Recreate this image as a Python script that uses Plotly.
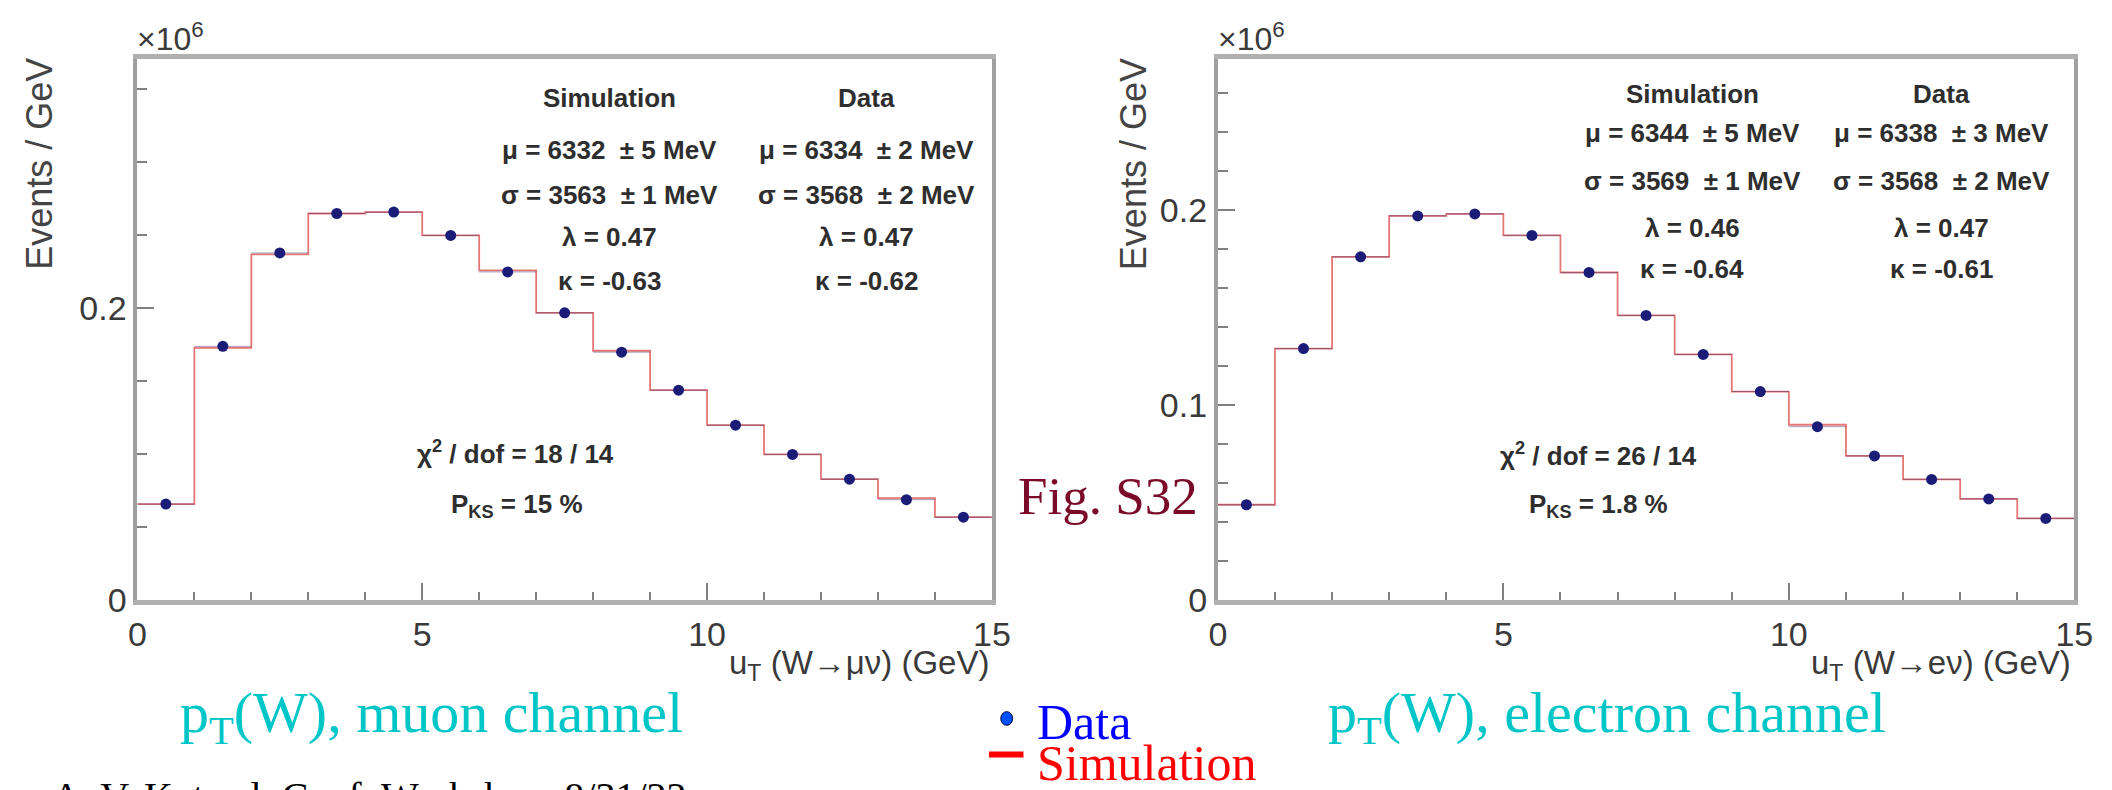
import plotly.graph_objects as go

# ---------------- data (x 10^6 events / GeV) ----------------
bin_edges = list(range(16))
bin_centers = [i + 0.5 for i in range(15)]

muon_data = [0.066, 0.174, 0.238, 0.265, 0.266, 0.250, 0.225, 0.197, 0.170, 0.144,
             0.120, 0.100, 0.083, 0.069, 0.057]
muon_sim = [0.066, 0.173, 0.237, 0.265, 0.266, 0.250, 0.226, 0.197, 0.171, 0.144,
            0.120, 0.100, 0.083, 0.070, 0.057]
elec_data = [0.049, 0.129, 0.176, 0.197, 0.198, 0.187, 0.168, 0.146, 0.126, 0.107,
             0.089, 0.074, 0.062, 0.052, 0.042]
elec_sim = [0.049, 0.129, 0.176, 0.197, 0.198, 0.187, 0.168, 0.146, 0.126, 0.107,
            0.090, 0.074, 0.062, 0.052, 0.042]

muon_stats_sim = ["<b>Simulation</b>", "<b>μ = 6332  ± 5 MeV</b>", "<b>σ = 3563  ± 1 MeV</b>",
                  "<b>λ = 0.47</b>", "<b>κ = -0.63</b>"]
muon_stats_data = ["<b>Data</b>", "<b>μ = 6334  ± 2 MeV</b>", "<b>σ = 3568  ± 2 MeV</b>",
                   "<b>λ = 0.47</b>", "<b>κ = -0.62</b>"]
muon_fit = ["<b>χ<sup>2</sup> / dof = 18 / 14</b>", "<b>P<sub>KS</sub> = 15 %</b>"]

elec_stats_sim = ["<b>Simulation</b>", "<b>μ = 6344  ± 5 MeV</b>", "<b>σ = 3569  ± 1 MeV</b>",
                  "<b>λ = 0.46</b>", "<b>κ = -0.64</b>"]
elec_stats_data = ["<b>Data</b>", "<b>μ = 6338  ± 3 MeV</b>", "<b>σ = 3568  ± 2 MeV</b>",
                   "<b>λ = 0.47</b>", "<b>κ = -0.61</b>"]
elec_fit = ["<b>χ<sup>2</sup> / dof = 26 / 14</b>", "<b>P<sub>KS</sub> = 1.8 %</b>"]

W, H = 2112, 790


def px(x):
    return x / W


def py(y):
    return 1 - y / H


SANS = "Liberation Sans, Arial, sans-serif"
SERIF = "Liberation Serif, Times New Roman, serif"
HIST_COLOR = "#e47676"
DOT_COLOR = "#1b1b78"

fig = go.Figure()

panels = [
    ("x", "y", muon_data, muon_sim),
    ("x2", "y2", elec_data, elec_sim),
]
for xa, ya, dat, sim in panels:
    fig.add_trace(go.Scatter(
        x=bin_edges, y=sim + [sim[-1]], mode="lines", line_shape="hv",
        line=dict(color=HIST_COLOR, width=1.8), xaxis=xa, yaxis=ya, showlegend=False))
    fig.add_trace(go.Scatter(
        x=bin_centers, y=dat, mode="markers",
        marker=dict(color=DOT_COLOR, size=11),
        error_x=dict(type="constant", value=0.5, thickness=1, width=0,
                     color="rgba(60,40,110,0.45)"),
        xaxis=xa, yaxis=ya, showlegend=False))

tickfont = dict(family=SANS, size=34, color="#3a3a3a")
common_x = dict(range=[0, 15], tick0=0, dtick=5, ticks="inside", ticklen=17, tickwidth=2,
                tickcolor="#808080", showline=True, linecolor="#b0b0b0", linewidth=5,
                mirror=True, showgrid=False, zeroline=False, tickfont=tickfont,
                minor=dict(dtick=1, tick0=0, ticks="inside", ticklen=8, tickwidth=2,
                           tickcolor="#808080", showgrid=False))
common_y = dict(tick0=0, ticks="inside", ticklen=17, tickwidth=2, tickcolor="#808080",
                showline=True, linecolor="#a0a0a0", linewidth=4, mirror=True,
                showgrid=False, zeroline=False, tickfont=tickfont)

ydom = [py(607), py(52)]
fig.update_layout(
    width=W, height=H, margin=dict(l=0, r=0, t=0, b=0),
    paper_bgcolor="white", plot_bgcolor="white", showlegend=False,
    xaxis=dict(domain=[px(122), px(988)], anchor="y", **common_x),
    yaxis=dict(domain=ydom, anchor="x", range=[0, 0.371], dtick=0.2,
               minor=dict(dtick=0.05, tick0=0, ticks="inside", ticklen=10, tickwidth=2,
                          tickcolor="#808080", showgrid=False),
               **common_y),
    xaxis2=dict(domain=[px(1217), px(2085)], anchor="y2", **common_x),
    yaxis2=dict(domain=ydom, anchor="x2", range=[0, 0.2775], dtick=0.1,
                minor=dict(dtick=0.02, tick0=0, ticks="inside", ticklen=10, tickwidth=2,
                           tickcolor="#808080", showgrid=False),
                **common_y),
)

ann = []


def add_text(x, y, text, size, color, family=SANS, xanchor="center", yanchor="middle",
             angle=0):
    ann.append(dict(x=px(x), y=py(y), xref="paper", yref="paper", text=text,
                    showarrow=False, xanchor=xanchor, yanchor=yanchor, textangle=angle,
                    font=dict(family=family, size=size, color=color)))


# panel decorations
for x0, x1 in [(122, 988), (1217, 2085)]:
    add_text(x0 - 2, 30, "×10<sup>6</sup>", 32, "#3a3a3a", xanchor="left")

add_text(22, 160, "Events / GeV", 36, "#444444", angle=-90)
add_text(1131, 160, "Events / GeV", 36, "#444444", angle=-90)
add_text(987, 673, "u<sub>T</sub> (W→μν) (GeV)", 33, "#3a3a3a", xanchor="right")
add_text(2084, 673, "u<sub>T</sub> (W→eν) (GeV)", 33, "#3a3a3a", xanchor="right")

# stats boxes
STAT_COL = "#2e2e2e"
for i, yy in enumerate([92, 146, 192, 235, 280]):
    add_text(600, yy, muon_stats_sim[i], 26, STAT_COL)
    add_text(861, yy, muon_stats_data[i], 26, STAT_COL)
add_text(505, 455, muon_fit[0], 26, STAT_COL)
add_text(507, 510, muon_fit[1], 26, STAT_COL)

for i, yy in enumerate([88, 128, 177, 225, 267]):
    add_text(1698, yy, elec_stats_sim[i], 26, STAT_COL)
    add_text(1950, yy, elec_stats_data[i], 26, STAT_COL)
add_text(1603, 457, elec_fit[0], 26, STAT_COL)
add_text(1603, 510, elec_fit[1], 26, STAT_COL)

# slide-level texts
CYAN = "#00c6c8"
add_text(163, 726, "p<sub>T</sub>(W), muon channel", 58, CYAN, family=SERIF, xanchor="left")
add_text(1327, 726, "p<sub>T</sub>(W), electron channel", 58, CYAN, family=SERIF, xanchor="left")
add_text(1012, 500, "Fig. S32", 53, "#7a0a28", family=SERIF, xanchor="left")
add_text(1032, 732, "Data", 50, "#0000ff", family=SERIF, xanchor="left")
add_text(1032, 774, "Simulation", 50, "#ff0000", family=SERIF, xanchor="left")
add_text(33, 808, "A. V. Kotwal, Conf. Workshop, 8/31/22", 40, "#000000", family=SERIF,
         xanchor="left")

fig.update_layout(annotations=ann)

# legend glyphs
fig.add_shape(type="circle", xref="paper", yref="paper",
              x0=px(997), x1=px(1009), y0=py(735), y1=py(721),
              fillcolor="#0050ff", line=dict(color="#000033", width=1))
fig.add_shape(type="line", xref="paper", yref="paper",
              x0=px(985), x1=px(1020), y0=py(765), y1=py(765),
              line=dict(color="#ff0000", width=6))

fig.write_html("out.html")
